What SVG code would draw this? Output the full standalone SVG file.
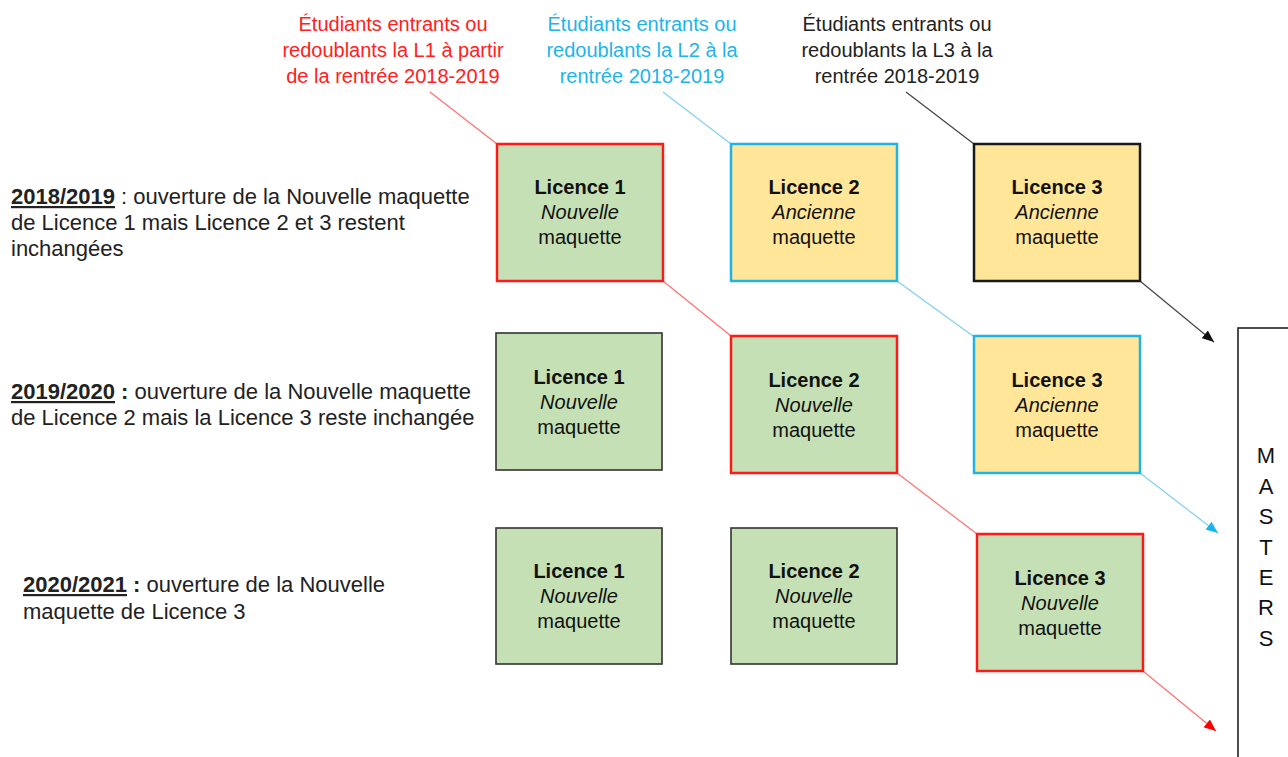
<svg xmlns="http://www.w3.org/2000/svg" width="1288" height="757" viewBox="0 0 1288 757">
<defs>
<style>
text{font-family:"Liberation Sans",Arial,sans-serif}
.lbl{font-size:20px;text-anchor:middle}
.side{font-size:22px;fill:#222}
.yr{font-weight:bold;text-decoration:underline}
.bt{font-size:20px;text-anchor:middle;fill:#111}
.b{font-weight:bold}
.i{font-style:italic}
.green{fill:#c5e0b4}
.yellow{fill:#ffe699}
.sr{stroke:#ff1a1a;stroke-width:2.5}
.sb{stroke:#1eb4e8;stroke-width:2.5}
.sk{stroke:#1a1a1a;stroke-width:2.5}
.sg{stroke:#333;stroke-width:1.6}
.cr{stroke:#ff7070;stroke-width:1.2;fill:none}
.cb{stroke:#80d0f0;stroke-width:1.2;fill:none}
.ck{stroke:#444;stroke-width:1.2;fill:none}
.m{font-size:22px;text-anchor:middle;fill:#111}
</style>
<marker id="ar" viewBox="0 0 12 10" refX="12" refY="5" markerWidth="12" markerHeight="10" markerUnits="userSpaceOnUse" orient="auto"><path d="M0,0 L12,5 L0,10 z" fill="#ff0000"/></marker>
<marker id="ab" viewBox="0 0 12 10" refX="12" refY="5" markerWidth="12" markerHeight="10" markerUnits="userSpaceOnUse" orient="auto"><path d="M0,0 L12,5 L0,10 z" fill="#1eb4e8"/></marker>
<marker id="ak" viewBox="0 0 12 10" refX="12" refY="5" markerWidth="12" markerHeight="10" markerUnits="userSpaceOnUse" orient="auto"><path d="M0,0 L12,5 L0,10 z" fill="#111"/></marker>
</defs>
<rect width="1288" height="757" fill="#fff"/>

<g id="connectors">
<line class="cr" x1="430" y1="92" x2="497" y2="144"/>
<line class="cr" x1="663" y1="281" x2="731" y2="336"/>
<line class="cr" x1="897" y1="473" x2="977" y2="534"/>
<line class="cr" x1="1143" y1="671" x2="1216" y2="731" marker-end="url(#ar)"/>
<line class="cb" x1="663" y1="92" x2="731" y2="144"/>
<line class="cb" x1="897" y1="281" x2="973" y2="336"/>
<line class="cb" x1="1140" y1="473" x2="1218" y2="533" marker-end="url(#ab)"/>
<line class="ck" x1="906" y1="92" x2="974" y2="144"/>
<line class="ck" x1="1140" y1="281" x2="1214" y2="342" marker-end="url(#ak)"/>
</g>

<g id="label-l1">
<text class="lbl" fill="#ff2020"><tspan x="393" y="31">Étudiants entrants ou</tspan><tspan x="393" y="57">redoublants la L1 à partir</tspan><tspan x="393" y="83">de la rentrée 2018-2019</tspan></text>
</g>
<g id="label-l2">
<text class="lbl" fill="#1eb4e8"><tspan x="642" y="31">Étudiants entrants ou</tspan><tspan x="642" y="57">redoublants la L2 à la</tspan><tspan x="642" y="83">rentrée 2018-2019</tspan></text>
</g>
<g id="label-l3">
<text class="lbl" fill="#222"><tspan x="897" y="31">Étudiants entrants ou</tspan><tspan x="897" y="57">redoublants la L3 à la</tspan><tspan x="897" y="83">rentrée 2018-2019</tspan></text>
</g>

<g id="year-2018">
<text class="side"><tspan x="11" y="204"><tspan class="yr">2018/2019</tspan> : ouverture de la Nouvelle maquette</tspan><tspan x="11" y="230">de Licence 1 mais Licence 2 et 3 restent</tspan><tspan x="11" y="256">inchangées</tspan></text>
</g>
<g id="year-2019">
<text class="side"><tspan x="11" y="399"><tspan class="yr">2019/2020</tspan><tspan class="b"> :</tspan> ouverture de la Nouvelle maquette</tspan><tspan x="11" y="425">de Licence 2 mais la Licence 3 reste inchangée</tspan></text>
</g>
<g id="year-2020">
<text class="side"><tspan x="23" y="592"><tspan class="yr">2020/2021</tspan><tspan class="b"> :</tspan> ouverture de la Nouvelle</tspan><tspan x="23" y="619">maquette de Licence 3</tspan></text>
</g>

<g id="r1-l1">
<rect class="green sr" x="497" y="144" width="166" height="137"/>
<text class="bt"><tspan class="b" x="580" y="194">Licence 1</tspan><tspan class="i" x="580" y="219">Nouvelle</tspan><tspan x="580" y="244">maquette</tspan></text>
</g>
<g id="r1-l2">
<rect class="yellow sb" x="731" y="144" width="166" height="137"/>
<text class="bt"><tspan class="b" x="814" y="194">Licence 2</tspan><tspan class="i" x="814" y="219">Ancienne</tspan><tspan x="814" y="244">maquette</tspan></text>
</g>
<g id="r1-l3">
<rect class="yellow sk" x="974" y="144" width="166" height="137"/>
<text class="bt"><tspan class="b" x="1057" y="194">Licence 3</tspan><tspan class="i" x="1057" y="219">Ancienne</tspan><tspan x="1057" y="244">maquette</tspan></text>
</g>

<g id="r2-l1">
<rect class="green sg" x="496" y="333" width="166" height="137"/>
<text class="bt"><tspan class="b" x="579" y="384">Licence 1</tspan><tspan class="i" x="579" y="409">Nouvelle</tspan><tspan x="579" y="434">maquette</tspan></text>
</g>
<g id="r2-l2">
<rect class="green sr" x="731" y="336" width="166" height="137"/>
<text class="bt"><tspan class="b" x="814" y="387">Licence 2</tspan><tspan class="i" x="814" y="412">Nouvelle</tspan><tspan x="814" y="437">maquette</tspan></text>
</g>
<g id="r2-l3">
<rect class="yellow sb" x="974" y="336" width="166" height="137"/>
<text class="bt"><tspan class="b" x="1057" y="387">Licence 3</tspan><tspan class="i" x="1057" y="412">Ancienne</tspan><tspan x="1057" y="437">maquette</tspan></text>
</g>

<g id="r3-l1">
<rect class="green sg" x="496" y="528" width="166" height="136"/>
<text class="bt"><tspan class="b" x="579" y="578">Licence 1</tspan><tspan class="i" x="579" y="603">Nouvelle</tspan><tspan x="579" y="628">maquette</tspan></text>
</g>
<g id="r3-l2">
<rect class="green sg" x="731" y="528" width="166" height="136"/>
<text class="bt"><tspan class="b" x="814" y="578">Licence 2</tspan><tspan class="i" x="814" y="603">Nouvelle</tspan><tspan x="814" y="628">maquette</tspan></text>
</g>
<g id="r3-l3">
<rect class="green sr" x="977" y="534" width="166" height="137"/>
<text class="bt"><tspan class="b" x="1060" y="585">Licence 3</tspan><tspan class="i" x="1060" y="610">Nouvelle</tspan><tspan x="1060" y="635">maquette</tspan></text>
</g>

<g id="masters">
<rect x="1238" y="328" width="70" height="460" fill="#fff" stroke="#222" stroke-width="1.6"/>
<text class="m"><tspan x="1266" y="463">M</tspan><tspan x="1266" y="494">A</tspan><tspan x="1266" y="524">S</tspan><tspan x="1266" y="555">T</tspan><tspan x="1266" y="585">E</tspan><tspan x="1266" y="615">R</tspan><tspan x="1266" y="646">S</tspan></text>
</g>
</svg>
